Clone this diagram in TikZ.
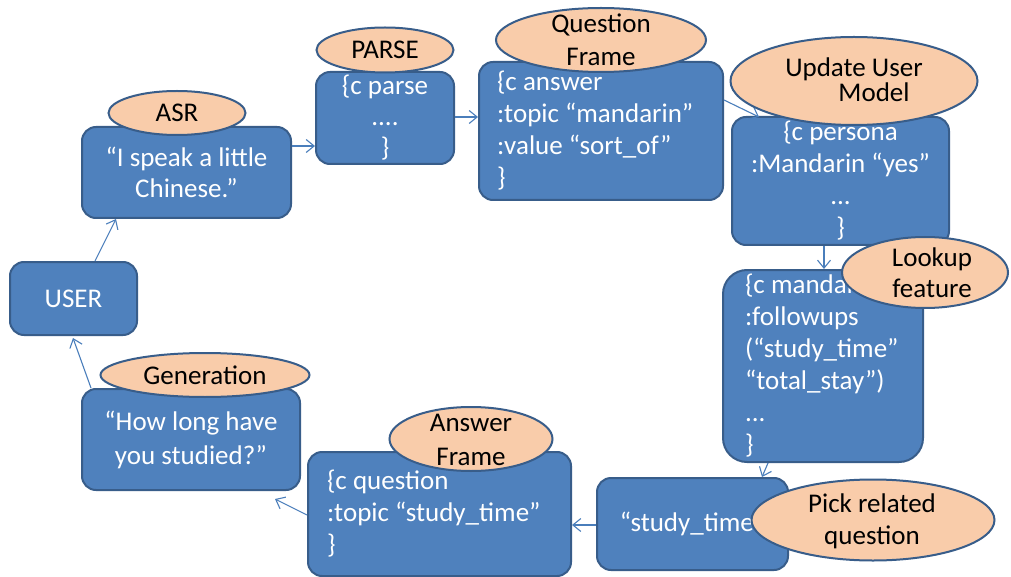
\documentclass[tikz,border=0pt]{standalone}
\usepackage{fontspec}
\setmainfont{Carlito}
\usetikzlibrary{shapes.geometric,arrows.meta,calc}
\definecolor{boxfill}{HTML}{4F81BD}
\definecolor{boxline}{HTML}{385D8A}
\definecolor{ellfill}{HTML}{F9CCAA}
\definecolor{arrcol}{HTML}{4A7EBB}
\begin{document}
\begin{tikzpicture}[x=1pt,y=-1pt,
  box/.style={draw=boxline, line width=2pt, fill=boxfill, rounded corners=14pt,
    text=white, font=\fontsize{27}{32}\selectfont, inner xsep=0pt, inner ysep=0pt, align=center,
    execute at begin node={\spaceskip=0pt\xspaceskip=0pt\relax}},
  lbox/.style={box, align=left},
  ell/.style={ellipse, draw=boxline, line width=2pt, fill=ellfill, inner sep=0pt},
  etext/.style={inner sep=0pt, align=center, text=black, font=\fontsize{27}{31}\selectfont,
    execute at begin node={\spaceskip=0pt\xspaceskip=0pt\relax}},
  arr/.style={draw=arrcol, line width=1.1pt, -{Straight Barb[length=8pt,width=13pt]}}
]
\useasboundingbox[fill=white] (0,0) rectangle (1011,577);

% boxes
\node[box, minimum width=209, minimum height=91, font=\fontsize{27}{31}\selectfont] (asrb) at (186.5,172.5) {“I speak a little\\Chinese.”};
\node[box, minimum width=138, minimum height=92, font=\fontsize{27}{31}\selectfont] (parseb) at (385,118) {\{c parse\\....\\\}};
\node[lbox, minimum width=244, minimum height=138, text width=208] (qfb) at (601,131)
  {\{c answer\\:topic “mandarin”\\:value “sort\_of”\\\}};
\node[box, minimum width=217, minimum height=128] (uumb) at (840.5,181)
  {\{c persona\\:Mandarin “yes”\\...\\\}};
\node[lbox, rounded corners=24pt, minimum width=200, minimum height=192, text width=156] (lookupb) at (823,366)
  {\{c mandarin\\:followups\\(“study\_time”\\“total\_stay”)\\...\\\}};
\node[box, minimum width=191, minimum height=92] (stb) at (692.5,524) {“study\_time”};
\node[lbox, minimum width=263, minimum height=124, text width=225] (afb) at (439.5,514)
  {\{c question\\:topic “study\_time”\\\}};
\node[box, minimum width=218, minimum height=101, font=\fontsize{27}{34}\selectfont] (genb) at (191,439.5)
  {“How long have\\you studied?”};
\node[box, minimum width=127, minimum height=73] (user) at (73.5,298.5) {USER};

% connectors
\draw[arr] ($(user.north)+(21.5,0)$) -- ($(asrb.south west)+(35,0)$);
\draw[arr] ($(asrb.east)+(0,-26.5)$) -- ($(parseb.west)+(0,28)$);
\draw[arr] ($(parseb.east)+(0,-1)$) -- ($(qfb.west)+(0,-14)$);
\draw[arr] ($(qfb.east)+(0,-31)$) -- ($(uumb.north west)+(28,1)$);
\draw[arr] ($(uumb.south)+(-16.5,0)$) -- ($(lookupb.north)+(1,0)$);
\draw[arr] ($(lookupb.south)+(-55,0)$) -- ($(stb.north)+(69.5,0)$);
\draw[arr] ($(stb.west)+(0,1)$) -- ($(afb.east)+(0,11)$);
\draw[arr] ($(afb.west)+(0,1)$) -- ($(genb.south east)+(-26,8)$);
\draw[arr] ($(genb.north west)+(10,0)$) -- ($(user.south)+(-0.5,2)$);

% ellipses
\node[ell, minimum width=137, minimum height=44] (asre) at (177,113) {};
\node[etext] (asrt) at (asre) {ASR};
\node[ell, minimum width=137, minimum height=45] (parsee) at (385,50) {};
\node[etext] (parset) at (parsee) {PARSE};
\node[ell, minimum width=210, minimum height=64] (qfe) at (601,40) {};
\node[etext, font=\fontsize{27}{33}\selectfont] (qft) at (qfe) {Question\\Frame};
\node[ell, minimum width=247, minimum height=88] (uume) at (854,81) {};
\node[etext, font=\fontsize{27}{25}\selectfont] (uumt) at ($(uume)+(0,-1)$) {Update User\\\hspace*{40pt}Model};
\node[ell, minimum width=166, minimum height=71] (lookupe) at (925,272.5) {};
\node[etext] (lookupt) at ($(lookupe)+(7,0)$) {Lookup\\feature};
\node[ell, minimum width=243, minimum height=81] (picke) at (873,520) {};
\node[etext, font=\fontsize{27}{32}\selectfont] (pickt) at ($(picke)+(-1,1)$) {Pick related\\question};
\node[ell, minimum width=163, minimum height=64] (afe) at (471,439) {};
\node[etext, font=\fontsize{27}{34}\selectfont] (aft) at ($(afe)+(0,1)$) {Answer\\Frame};
\node[ell, minimum width=209, minimum height=44] (gene) at (205,375) {};
\node[etext] (gent) at (gene) {Generation};
\end{tikzpicture}
\end{document}
